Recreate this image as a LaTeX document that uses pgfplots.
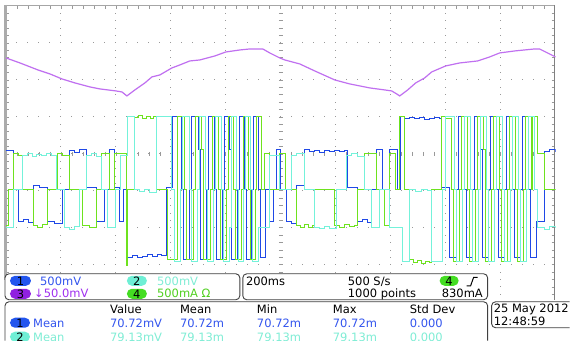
\documentclass[border=0pt]{standalone}
\usepackage{pgfplots}
\pgfplotsset{compat=1.18}
\usepackage{fontspec}
\setmainfont{DejaVu Sans}
\definecolor{cb}{HTML}{1F48E6}
\definecolor{cc}{HTML}{74F2DA}
\definecolor{cg}{HTML}{6EE21E}
\definecolor{cp}{HTML}{C070F0}
\definecolor{pb}{HTML}{2255EE}
\definecolor{pc}{HTML}{6FEFD5}
\definecolor{pg}{HTML}{44DD22}
\definecolor{pp}{HTML}{9020E0}
\definecolor{tb}{HTML}{3355EE}
\definecolor{tc}{HTML}{7FEDD5}
\definecolor{tg}{HTML}{50D020}
\definecolor{tp}{HTML}{A030F0}
\definecolor{gridc}{HTML}{999999}
\begin{document}
\begin{tikzpicture}
\begin{scope}[x=1pt,y=-1pt]
\fill[white] (0,0) rectangle (570,341);
% graticule dots
\foreach \k in {1,...,7}{\foreach \j in {1,...,49}{\fill[gridc] ({6+11*\j-0.5},{6+37*\k-0.5}) rectangle +(1,1);}}
\foreach \k in {1,...,9}{\foreach \j in {1,...,39}{\fill[gridc] ({6+55*\k-0.5},{6+7.4*\j-0.5}) rectangle +(1,1);}}
% center ticks
\foreach \j in {1,...,39}{\draw[gridc,line width=0.7pt] (279,{6+7.4*\j}) -- (283,{6+7.4*\j});}
\foreach \j in {1,...,49}{\draw[gridc,line width=0.7pt] ({6+11*\j},152) -- ({6+11*\j},156);}
% border ticks
\foreach \j in {1,...,49}{\draw[gridc,line width=0.7pt] ({6+11*\j},6) -- ({6+11*\j},9);}
\foreach \j in {1,...,39}{\draw[gridc,line width=0.7pt] (6,{6+7.4*\j}) -- (9,{6+7.4*\j}); \draw[gridc,line width=0.7pt] (552,{6+7.4*\j}) -- (555,{6+7.4*\j});}
% borders
\draw[black!35,line width=1.5pt] (5,5.5) -- (555,5.5);
\draw[black!50,line width=1.2pt] (555,5) -- (555,300);
\draw[black!33,line width=2.5pt] (5.5,5) -- (5.5,280);
\end{scope}
\begin{axis}[at={(6pt,-6pt)},anchor=north west,scale only axis,width=550pt,height=296pt,
  xmin=6,xmax=556,ymin=6,ymax=302,y dir=reverse,hide axis,clip=true]
\addplot[cp,line width=1.2pt] coordinates {(6,58)(20,63)(38,70)(50,74)(62,79)(75,83)(90,87)(100,89)(116,91)(122,92)(127,96)(135,90)(145,83)(152,77)(160,75)(172,68)(180,65)(190,61)(200,60)(215,56)(226,52)(240,50)(250,49)(263,49)(270,53)(280,58)(285,60)(300,64)(315,71)(335,80)(350,84)(370,88)(385,90)(392,91)(397,94)(400,96)(408,90)(416,83)(425,78)(432,72)(446,66)(460,63)(478,61)(490,57)(500,53)(515,51)(535,49)(540,49)(548,53)(556,57)};
\addplot[cb,line width=0.95pt,const plot] coordinates {(6,151)(13,190)(18,222)(23,220)(28,223)(33,186)(40,188)(48,222)(55,224)(63,190)(70,151)(75,153)(80,150)(87,188)(97,222)(105,190)(110,150)(115,188)(120,222)(124,190)(128,258)(133,256)(138,258)(143,257)(148,255)(153,257)(158,255)(162,256)(167,188)(173,117)(182,190)(184,260)(190,190)(192,117)(199,150)(201,260)(207,190)(209,117)(215,190)(217,260)(223,190)(225,117)(230,150)(232,260)(238,190)(240,117)(245,190)(247,260)(252,190)(254,117)(259,190)(261,258)(266,190)(270,222)(274,190)(277,150)(281,190)(287,222)(292,224)(297,186)(305,150)(310,152)(315,151)(320,153)(325,151)(330,152)(335,151)(340,152)(345,151)(348,188)(358,222)(363,220)(368,223)(372,190)(377,150)(383,190)(390,150)(398,190)(401,117)(405,119)(410,118)(415,119)(420,118)(425,120)(430,119)(435,118)(440,119)(442,188)(450,258)(457,190)(459,117)(465,190)(467,258)(473,190)(475,117)(481,150)(483,258)(489,190)(491,117)(497,190)(499,258)(505,190)(507,117)(513,190)(515,258)(521,190)(523,117)(529,190)(531,258)(537,222)(545,152)(550,150)(556,152)};
\addplot[cg,line width=0.95pt,const plot] coordinates {(6,226)(8,190)(13,154)(18,156)(22,190)(33,226)(38,228)(43,225)(48,190)(58,154)(63,156)(70,190)(83,226)(90,228)(97,190)(102,154)(110,190)(115,154)(127,266)(128,190)(135,118)(139,116)(143,119)(147,117)(151,119)(154,117)(157,190)(168,260)(178,117)(185,190)(187,260)(194,190)(196,117)(202,150)(204,260)(211,190)(213,117)(219,190)(221,260)(227,190)(229,117)(234,190)(236,260)(242,190)(244,117)(249,190)(251,260)(256,190)(257,117)(262,190)(265,154)(270,190)(280,154)(286,190)(297,226)(301,228)(305,225)(309,228)(313,226)(315,190)(335,226)(340,228)(345,225)(350,227)(355,226)(358,190)(365,154)(377,190)(385,226)(390,154)(396,190)(400,117)(405,190)(410,260)(414,263)(418,261)(422,264)(426,262)(430,263)(432,190)(442,117)(446,119)(452,190)(454,262)(460,190)(462,117)(468,190)(470,262)(476,190)(478,117)(484,150)(486,262)(492,190)(494,117)(500,190)(502,262)(508,190)(510,117)(516,190)(518,262)(524,190)(526,117)(532,190)(533,117)(538,154)(545,190)(556,190)};
\addplot[cc,line width=0.95pt,const plot] coordinates {(6,228)(13,190)(22,156)(27,154)(32,157)(37,155)(42,156)(47,154)(52,156)(57,190)(65,228)(70,230)(75,227)(80,190)(87,156)(92,154)(97,157)(102,190)(108,228)(116,190)(121,156)(128,117)(135,190)(140,192)(145,190)(150,193)(157,117)(172,190)(175,262)(181,190)(183,117)(190,190)(192,262)(198,190)(200,117)(206,190)(208,262)(214,190)(216,117)(222,190)(224,262)(230,228)(232,117)(237,190)(239,262)(244,190)(246,117)(251,190)(253,262)(259,228)(262,228)(270,156)(280,190)(292,156)(297,154)(305,190)(315,228)(320,229)(325,227)(330,229)(337,190)(347,156)(352,154)(358,157)(365,190)(372,228)(380,190)(390,228)(403,262)(410,190)(416,192)(422,190)(428,191)(432,262)(443,190)(446,117)(455,190)(457,262)(463,190)(465,117)(471,190)(473,262)(479,190)(481,117)(487,190)(489,262)(495,190)(497,117)(503,190)(505,262)(511,190)(513,117)(519,190)(521,262)(527,190)(529,117)(535,190)(538,228)(545,230)(550,227)(556,228)};
\end{axis}
\begin{scope}[x=1pt,y=-1pt,every node/.style={inner sep=0pt,font=\fontsize{11.5}{13}\selectfont}]
\draw[black!75,fill=white,rounded corners=4pt,line width=0.9pt] (5,274) rectangle (240,300);
\draw[black!75,fill=white,rounded corners=4pt,line width=0.9pt] (243,274) rectangle (488,300);
\fill[white] (5,302) rectangle (488,341);
\draw[black!75,rounded corners=4pt,line width=0.9pt] (5,341) -- (5,302) -- (488,302) -- (488,341);
\fill[white] (492,302) rectangle (570,328);
\draw[black!75,rounded corners=4pt,line width=0.9pt] (570,302) -- (492,302) -- (492,328) -- (570,328);
% box 1
\fill[pb,rounded corners=5pt] (10,276) rectangle (31,286); \node at (20.5,281.3) {1};
\node[anchor=base west,text=tb] at (40,286) {500mV};
\fill[pc,rounded corners=5pt] (127,276) rectangle (147,286); \node at (137,281.3) {2};
\node[anchor=base west,text=tc] at (157,286) {500mV};
\fill[pp,rounded corners=5pt] (10,289) rectangle (31,299); \node at (20.5,294.3) {3};
\node[anchor=base west,text=tp] at (34,298) {↓50.0mV};
\fill[pg,rounded corners=5pt] (127,289) rectangle (147,299); \node at (137,294.3) {4};
\node[anchor=base west,text=tg] at (157,298) {500mA Ω};
% box 2
\node[anchor=base west] at (246,286) {200ms};
\node[anchor=base west] at (348,286) {500 S/s};
\node[anchor=base west] at (348,298) {1000 points};
\fill[pg,rounded corners=5pt] (440,276) rectangle (459,286); \node at (449.5,281.3) {4};
\draw[black,line width=1pt] (467,286) -- (471,286) -- (474,277.5) -- (478,277.5);
\node[anchor=base west] at (442,298) {830mA};
% box 3
\node[anchor=base west] at (110,314) {Value};
\node[anchor=base west] at (180,314) {Mean};
\node[anchor=base west] at (257,314) {Min};
\node[anchor=base west] at (333,314) {Max};
\node[anchor=base west] at (410,314) {Std Dev};
\fill[pb,rounded corners=5pt] (10,318) rectangle (30,328); \node at (20,323.3) {1};
\node[anchor=base west,text=tb] at (33,328) {Mean};
\node[anchor=base west,text=tb] at (110,328) {70.72mV};
\node[anchor=base west,text=tb] at (180,328) {70.72m};
\node[anchor=base west,text=tb] at (257,328) {70.72m};
\node[anchor=base west,text=tb] at (333,328) {70.72m};
\node[anchor=base west,text=tb] at (410,328) {0.000};
\begin{scope}
\clip (0,0) rectangle (570,341);
\fill[pc,rounded corners=5pt] (10,332) rectangle (30,342); \node at (20,337.3) {2};
\node[anchor=base west,text=tc] at (33,341.5) {Mean};
\node[anchor=base west,text=tc] at (110,341.5) {79.13mV};
\node[anchor=base west,text=tc] at (180,341.5) {79.13m};
\node[anchor=base west,text=tc] at (257,341.5) {79.13m};
\node[anchor=base west,text=tc] at (333,341.5) {79.13m};
\node[anchor=base west,text=tc] at (410,341.5) {0.000};
\end{scope}
% box 4
\node[anchor=base west] at (494,312.5) {25 May 2012};
\node[anchor=base west] at (494,326) {12:48:59};
\end{scope}
\end{tikzpicture}
\end{document}
